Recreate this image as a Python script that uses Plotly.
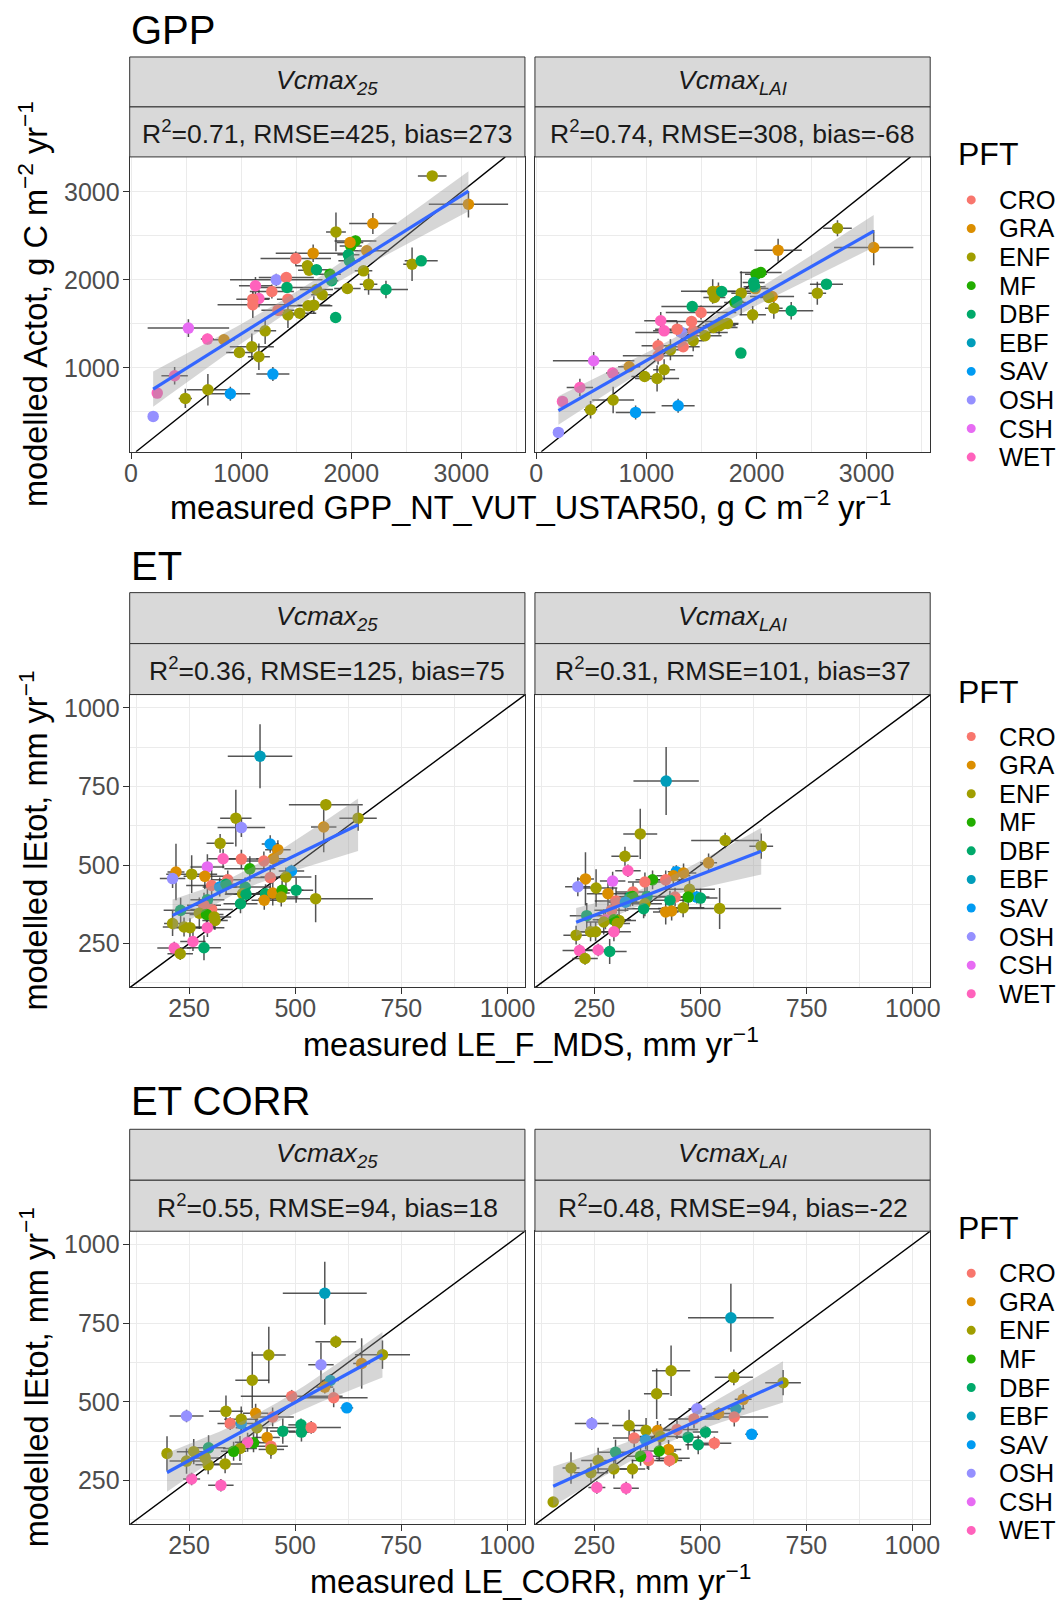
import numpy as np
import plotly.graph_objects as go

# ---------------- data ----------------
PFT_LEVELS = ["CRO", "GRA", "ENF", "MF", "DBF", "EBF", "SAV", "OSH", "CSH", "WET"]
PFT_COLORS = ["#F8766D", "#DB8E00", "#A09E00", "#22AD00", "#00A96A",
              "#009DBA", "#009BF2", "#9590FF", "#E76BF3", "#FF62BC"]

# GPP: measured (x) shared by both Vcmax variants
gpp_pft = ["ENF", "GRA", "GRA", "ENF", "MF", "MF", "GRA", "GRA", "GRA", "CRO",
           "DBF", "DBF", "ENF", "ENF", "DBF", "ENF", "DBF", "ENF", "MF", "DBF",
           "OSH", "CRO", "WET", "DBF", "CRO", "WET", "CRO", "CRO", "CRO", "CRO",
           "ENF", "ENF", "DBF", "ENF", "ENF", "ENF", "ENF", "ENF", "ENF", "DBF",
           "ENF", "CSH", "WET", "GRA", "ENF", "ENF", "ENF", "SAV", "WET", "ENF",
           "WET", "SAV", "ENF", "OSH"]
gpp_meas = [2735, 3064, 2196, 1861, 2038, 1995, 1989, 1654, 2141, 1496,
            1974, 1983, 1602, 1617, 1684, 2552, 2635, 2111, 1806, 1822,
            1319, 1410, 1130, 1416, 1279, 1161, 1106, 1106, 1425, 1334,
            1965, 2157, 2315, 1684, 1736, 1608, 1660, 1532, 1425, 1858,
            1218, 521, 694, 844, 1097, 984, 1161, 1288, 396, 698,
            238, 902, 493, 201]
gpp_meas_sd = [130, 360, 215, 90, 190, 100, 120, 340, 200, 320,
               100, 100, 110, 100, 120, 80, 150, 80, 100, 60,
               420, 250, 150, 280, 200, 100, 150, 320, 100, 150,
               120, 80, 200, 150, 100, 220, 150, 150, 100, 40,
               100, 370, 60, 100, 200, 120, 100, 150, 120, 190,
               40, 180, 60, 40]
gpp_v25 = [3182, 2860, 2640, 2545, 2443, 2386, 2424, 2303, 2330, 2242,
           2284, 2216, 2159, 2110, 2114, 2178, 2216, 2102, 2064, 1989,
           2000, 2026, 1932, 1913, 1867, 1788, 1780, 1716, 1780, 1655,
           1901, 1951, 1890, 1890, 1830, 1705, 1712, 1621, 1602, 1572,
           1420, 1451, 1326, 1318, 1239, 1174, 1125, 928, 909, 750,
           712, 704, 651, 447]
gpp_v25_sd = [40, 150, 120, 220, 60, 60, 60, 100, 60, 80,
              60, 60, 60, 50, 50, 190, 40, 50, 60, 50,
              70, 60, 100, 60, 80, 100, 80, 150, 60, 60,
              60, 120, 100, 60, 60, 60, 100, 60, 150, 30,
              150, 100, 60, 60, 150, 60, 150, 80, 100, 180,
              40, 80, 110, 30]
gpp_vlai = [2587, 2367, 2337, 1848, 2083, 2064, 1900, 1870, 1811, 1629,
            1970, 1920, 1867, 1799, 1867, 1848, 1951, 1799, 1742, 1754,
            1401, 1526, 1534, 1697, 1439, 1420, 1250, 1136, 1420, 1239,
            1602, 1678, 1648, 1496, 1504, 1458, 1477, 1364, 1307, 1167,
            1204, 1079, 939, 1011, 879, 901, 977, 568, 776, 633,
            617, 492, 523, 265]
gpp_vlai_sd = [90, 200, 130, 250, 60, 60, 60, 100, 60, 80,
               60, 60, 140, 60, 50, 130, 40, 50, 60, 60,
               80, 60, 100, 60, 80, 60, 80, 100, 60, 60,
               100, 120, 100, 60, 60, 60, 100, 60, 120, 30,
               120, 100, 60, 60, 150, 60, 120, 80, 100, 150,
               40, 80, 100, 30]

# ET (LE_F_MDS), Vcmax25
et25_pft = ["EBF", "ENF", "ENF", "GRA", "ENF", "OSH", "ENF", "SAV", "GRA", "GRA",
            "CRO", "CRO", "WET", "CSH", "MF", "SAV", "GRA", "OSH", "ENF", "GRA",
            "CRO", "CRO", "SAV", "DBF", "CRO", "ENF", "DBF", "ENF", "DBF", "DBF",
            "GRA", "MF", "DBF", "ENF", "GRA", "ENF", "DBF", "DBF", "DBF", "CRO",
            "CRO", "ENF", "MF", "ENF", "ENF", "ENF", "ENF", "ENF", "WET", "WET",
            "DBF", "WET", "ENF"]
et25_x = [417, 572, 648, 567, 360, 373, 323, 441, 459, 448,
          426, 373, 330, 293, 393, 491, 219, 211, 256, 287,
          341, 303, 322, 337, 441, 478, 382, 376, 384, 430,
          447, 469, 502, 467, 427, 548, 371, 293, 230, 285,
          303, 274, 291, 309, 311, 211, 238, 252, 293, 259,
          285, 215, 229]
et25_xsd = [76, 87, 44, 30, 37, 56, 32, 20, 30, 40,
            50, 40, 35, 40, 60, 30, 20, 30, 60, 50,
            40, 60, 40, 30, 50, 60, 60, 40, 50, 40,
            40, 50, 40, 40, 30, 135, 40, 40, 40, 40,
            50, 40, 40, 40, 30, 20, 50, 40, 40, 30,
            40, 40, 30]
et25_y = [846, 692, 649, 621, 649, 619, 569, 567, 549, 520,
          513, 519, 520, 494, 488, 481, 478, 457, 471, 464,
          453, 435, 430, 439, 460, 462, 430, 409, 407, 409,
          411, 420, 420, 398, 388, 393, 377, 390, 356, 372,
          359, 347, 343, 335, 324, 314, 303, 301, 301, 257,
          237, 236, 218]
et25_ysd = [102, 18, 40, 80, 90, 30, 30, 28, 30, 30,
            30, 30, 30, 40, 40, 20, 90, 30, 60, 40,
            30, 50, 30, 30, 40, 30, 30, 40, 30, 30,
            40, 30, 40, 30, 30, 75, 30, 40, 40, 40,
            40, 50, 40, 40, 30, 40, 30, 30, 30, 30,
            40, 20, 20]

# ET (LE_F_MDS), VcmaxLAI
etlai_pft = ["EBF", "ENF", "ENF", "ENF", "ENF", "GRA", "WET", "SAV", "GRA", "GRA",
             "CRO", "MF", "CRO", "GRA", "CSH", "OSH", "ENF", "GRA", "ENF", "CRO",
             "DBF", "MF", "SAV", "DBF", "MF", "CRO", "DBF", "CRO", "SAV", "DBF",
             "ENF", "DBF", "ENF", "ENF", "GRA", "GRA", "DBF", "CRO", "ENF", "WET",
             "MF", "ENF", "ENF", "ENF", "ENF", "WET", "ENF", "WET", "WET", "DBF",
             "ENF"]
etlai_x = [419, 358, 558, 643, 322, 519, 329, 443, 460, 436,
           418, 387, 369, 229, 293, 211, 254, 282, 474, 341,
           334, 340, 491, 500, 471, 440, 428, 301, 323, 374,
           369, 366, 459, 545, 418, 432, 232, 290, 308, 276,
           296, 304, 272, 241, 253, 296, 207, 259, 215, 286,
           228]
etlai_xsd = [77, 40, 80, 28, 32, 20, 30, 20, 30, 40,
             40, 40, 40, 20, 30, 30, 50, 50, 60, 40,
             40, 40, 30, 40, 40, 40, 40, 50, 40, 50,
             40, 40, 50, 145, 30, 30, 40, 40, 40, 30,
             40, 30, 40, 40, 40, 40, 30, 30, 40, 40,
             30]
etlai_y = [767, 599, 578, 560, 528, 507, 482, 479, 475, 466,
           453, 453, 446, 456, 449, 431, 427, 409, 423, 414,
           398, 400, 398, 395, 398, 398, 388, 386, 382, 400,
           377, 361, 364, 362, 351, 354, 339, 356, 324, 326,
           326, 314, 319, 288, 288, 288, 277, 230, 228, 225,
           203]
etlai_ysd = [108, 80, 25, 40, 30, 30, 20, 20, 30, 30,
             30, 30, 30, 85, 30, 30, 60, 40, 30, 30,
             30, 30, 20, 30, 30, 30, 30, 40, 30, 30,
             40, 30, 30, 65, 40, 30, 40, 40, 40, 30,
             30, 30, 40, 30, 30, 30, 30, 20, 20, 40,
             20]

# ET CORR (LE_CORR), Vcmax25
etc25_pft = ["EBF", "ENF", "ENF", "GRA", "OSH", "ENF", "ENF", "EBF", "GRA", "CRO",
             "CRO", "SAV", "OSH", "ENF", "GRA", "CRO", "SAV", "ENF", "CRO", "ENF",
             "DBF", "DBF", "DBF", "CRO", "GRA", "MF", "WET", "CRO", "ENF", "ENF",
             "MF", "DBF", "ENF", "ENF", "ENF", "ENF", "ENF", "ENF", "WET", "WET"]
etc25_x = [570, 596, 706, 657, 561, 438, 399, 583, 570, 492,
           591, 622, 244, 337, 407, 347, 373, 373, 447, 410,
           471, 514, 515, 538, 434, 402, 388, 443, 444, 370,
           355, 296, 261, 198, 244, 288, 295, 335, 256, 325]
etc25_xsd = [99, 48, 65, 20, 30, 40, 40, 20, 20, 120,
             80, 15, 40, 40, 30, 30, 30, 40, 50, 50,
             30, 30, 30, 70, 30, 40, 30, 40, 30, 40,
             30, 40, 40, 10, 40, 40, 30, 40, 20, 30]
etc25_y = [845, 691, 650, 622, 618, 649, 569, 568, 547, 518,
           513, 481, 455, 470, 464, 431, 431, 445, 452, 418,
           407, 427, 404, 419, 387, 370, 372, 359, 349, 352,
           343, 354, 342, 336, 312, 322, 300, 303, 255, 235]
etc25_ysd = [100, 20, 45, 80, 70, 90, 90, 20, 20, 20,
             30, 10, 20, 50, 30, 20, 30, 40, 30, 40,
             40, 20, 30, 20, 30, 30, 30, 40, 20, 40,
             30, 40, 40, 55, 40, 40, 30, 30, 20, 20]

# ET CORR (LE_CORR), VcmaxLAI
etclai_pft = ["EBF", "ENF", "ENF", "ENF", "ENF", "GRA", "EBF", "OSH", "GRA", "CRO",
              "CRO", "SAV", "OSH", "ENF", "ENF", "GRA", "CRO", "DBF", "DBF", "DBF",
              "CRO", "CRO", "SAV", "ENF", "GRA", "MF", "ENF", "CRO", "CRO", "WET",
              "MF", "DBF", "ENF", "ENF", "ENF", "ENF", "ENF", "WET", "WET", "ENF"]
etclai_x = [572, 579, 695, 431, 397, 601, 584, 492, 543, 580,
            485, 621, 244, 332, 372, 399, 445, 512, 471, 495,
            533, 344, 371, 406, 425, 403, 435, 427, 378, 375,
            359, 300, 259, 195, 242, 296, 340, 256, 325, 153]
etclai_xsd = [101, 45, 42, 45, 30, 20, 20, 20, 30, 80,
              60, 15, 40, 40, 40, 30, 50, 30, 30, 30,
              40, 50, 30, 50, 30, 40, 40, 30, 40, 30,
              30, 40, 40, 20, 40, 40, 30, 20, 30, 10]
etclai_y = [767, 578, 561, 599, 526, 508, 478, 478, 463, 452,
            446, 397, 431, 425, 409, 409, 412, 404, 388, 364,
            369, 385, 379, 390, 349, 344, 321, 314, 314, 327,
            327, 340, 314, 290, 275, 287, 287, 228, 226, 182]
etclai_ysd = [108, 25, 40, 80, 80, 30, 20, 20, 20, 30,
              30, 10, 20, 50, 40, 30, 30, 20, 40, 30,
              20, 30, 30, 40, 30, 30, 20, 20, 30, 40,
              30, 40, 40, 50, 30, 30, 30, 20, 20, 10]

ROW_TITLES = ["GPP", "ET", "ET CORR"]
STRIP_TOP = ["<i>Vcmax</i><sub><i>25</i></sub>", "<i>Vcmax</i><sub><i>LAI</i></sub>"]
STATS = [["R<sup>2</sup>=0.71, RMSE=425, bias=273", "R<sup>2</sup>=0.74, RMSE=308, bias=-68"],
         ["R<sup>2</sup>=0.36, RMSE=125, bias=75", "R<sup>2</sup>=0.31, RMSE=101, bias=37"],
         ["R<sup>2</sup>=0.55, RMSE=94, bias=18", "R<sup>2</sup>=0.48, RMSE=94, bias=-22"]]
X_TITLES = ["measured GPP_NT_VUT_USTAR50, g C m<sup>\u22122</sup> yr<sup>\u22121</sup>",
            "measured LE_F_MDS, mm yr<sup>\u22121</sup>",
            "measured LE_CORR, mm yr<sup>\u22121</sup>"]
Y_TITLES = ["modelled Actot, g C m<sup>\u22122</sup> yr<sup>\u22121</sup>",
            "modelled lEtot, mm yr<sup>\u22121</sup>",
            "modelled lEtot, mm yr<sup>\u22121</sup>"]

PANELS = [
    (0, 0, gpp_pft, gpp_meas, gpp_meas_sd, gpp_v25, gpp_v25_sd),
    (0, 1, gpp_pft, gpp_meas, gpp_meas_sd, gpp_vlai, gpp_vlai_sd),
    (1, 0, et25_pft, et25_x, et25_xsd, et25_y, et25_ysd),
    (1, 1, etlai_pft, etlai_x, etlai_xsd, etlai_y, etlai_ysd),
    (2, 0, etc25_pft, etc25_x, etc25_xsd, etc25_y, etc25_ysd),
    (2, 1, etclai_pft, etclai_x, etclai_xsd, etclai_y, etclai_ysd),
]

# ---------------- layout geometry (window pixels) ----------------
OFF = 8                      # default page body margin
W, H = 1068, 1593
FONT = "Liberation Sans, Arial, sans-serif"
# measured horizontal mapping of the rendered page (target -> requested)
HX_A, HX_B = 5.5, 0.9844


def px(v):
    return ((v - HX_A) / HX_B - OFF) / W


def py(v):
    return 1 - (v - OFF) / H


COL_PX = [(129, 524), (534, 929)]
ROW_GEOM = [
    dict(panel=(156, 451), strips=(56, 106, 156), title=29, xtitle=504, leg=(153, 199)),
    dict(panel=(694, 987), strips=(592, 643, 694), title=565, xtitle=1042, leg=(691, 736)),
    dict(panel=(1231, 1524), strips=(1129, 1180, 1231), title=1101, xtitle=1579, leg=(1228, 1273)),
]
ROW_AXES = [
    dict(xr=[-12, 3577], yr=[45, 3398], dtick=1000, minor=500),
    dict(xr=[110, 1041], yr=[111, 1042], dtick=250, minor=125),
    dict(xr=[110, 1042], yr=[112, 1042], dtick=250, minor=125),
]


def t975(df):
    return 1.96 + 2.5 / df


def smooth(x, y, n=80):
    x = np.asarray(x, float)
    y = np.asarray(y, float)
    nn = len(x)
    b, a = np.polyfit(x, y, 1)
    xs = np.linspace(x.min(), x.max(), n)
    yh = a + b * xs
    res = y - (a + b * x)
    s = np.sqrt(np.sum(res ** 2) / (nn - 2))
    sxx = np.sum((x - x.mean()) ** 2)
    se = s * np.sqrt(1.0 / nn + (xs - x.mean()) ** 2 / sxx)
    t = t975(nn - 2)
    return xs, yh, yh - t * se, yh + t * se


fig = go.Figure()
shapes = []
annotations = []
layout_axes = {}

for idx, (r, c, pft, xv, xsd, yv, ysd) in enumerate(PANELS):
    n = idx + 1
    xa = "x" if n == 1 else f"x{n}"
    ya = "y" if n == 1 else f"y{n}"
    g = ROW_GEOM[r]
    ax = ROW_AXES[r]
    cols = [PFT_COLORS[PFT_LEVELS.index(p)] for p in pft]

    lo = max(ax["xr"][0], ax["yr"][0])
    hi = min(ax["xr"][1], ax["yr"][1])
    fig.add_trace(go.Scatter(x=[lo, hi], y=[lo, hi], mode="lines",
                             line=dict(color="black", width=1.4),
                             xaxis=xa, yaxis=ya, showlegend=False, hoverinfo="skip"))
    fig.add_trace(go.Scatter(
        x=xv, y=yv, mode="markers", xaxis=xa, yaxis=ya, showlegend=False,
        marker=dict(color=cols, size=11.5, line=dict(width=0)),
        error_x=dict(type="data", array=xsd, visible=True, color="rgba(55,55,55,0.85)",
                     thickness=1.5, width=0),
        error_y=dict(type="data", array=ysd, visible=True, color="rgba(55,55,55,0.85)",
                     thickness=1.5, width=0),
        text=pft, hovertemplate="%{text}: %{x}, %{y}<extra></extra>"))
    xs, yh, ylo, yhi = smooth(xv, yv)
    fig.add_trace(go.Scatter(x=np.concatenate([xs, xs[::-1]]),
                             y=np.concatenate([yhi, ylo[::-1]]),
                             fill="toself", fillcolor="rgba(153,153,153,0.4)",
                             line=dict(width=0), mode="lines",
                             xaxis=xa, yaxis=ya, showlegend=False, hoverinfo="skip"))
    fig.add_trace(go.Scatter(x=xs, y=yh, mode="lines", line=dict(color="#3366FF", width=3.2),
                             xaxis=xa, yaxis=ya, showlegend=False, hoverinfo="skip"))

    x0, x1 = COL_PX[c]
    p0, p1 = g["panel"]
    common = dict(showgrid=True, gridcolor="#EBEBEB", gridwidth=1.1, zeroline=False,
                  showline=True, mirror=True, linecolor="#333333", linewidth=1,
                  ticks="outside", ticklen=6, tickcolor="#333333", tickwidth=1,
                  tickfont=dict(family=FONT, size=25, color="#4D4D4D"),
                  tick0=0, dtick=ax["dtick"],
                  minor=dict(dtick=ax["minor"], tick0=0, showgrid=True,
                             gridcolor="#EBEBEB", gridwidth=0.6))
    xkey = "xaxis" if n == 1 else f"xaxis{n}"
    ykey = "yaxis" if n == 1 else f"yaxis{n}"
    layout_axes[xkey] = dict(common, domain=[px(x0), px(x1)], range=ax["xr"], anchor=ya,
                             ticklabelstandoff=-7)
    ydict = dict(common, domain=[py(p1), py(p0)], range=ax["yr"], anchor=xa,
                 ticklabelstandoff=-2)
    if c == 1:
        ydict.update(showticklabels=False, ticks="")
    layout_axes[ykey] = ydict

    # facet strips
    s0, s1, s2 = g["strips"]
    for (a, b, txt) in [(s0, s1, STRIP_TOP[c]), (s1, s2, STATS[r][c])]:
        shapes.append(dict(type="rect", xref="paper", yref="paper",
                           x0=px(x0), x1=px(x1), y0=py(b), y1=py(a),
                           fillcolor="#D9D9D9", line=dict(color="#333333", width=1)))
        annotations.append(dict(xref="paper", yref="paper", x=px((x0 + x1) / 2), y=py((a + b) / 2),
                                text=txt, showarrow=False, xanchor="center", yanchor="middle",
                                font=dict(family=FONT, size=26.5, color="#1A1A1A")))

for r, g in enumerate(ROW_GEOM):
    annotations.append(dict(xref="paper", yref="paper", x=px(128), y=py(g["title"]),
                            text=ROW_TITLES[r], showarrow=False, xanchor="left", yanchor="middle",
                            font=dict(family=FONT, size=40, color="black")))
    annotations.append(dict(xref="paper", yref="paper", x=px(530), y=py(g["xtitle"]),
                            text=X_TITLES[r], showarrow=False, xanchor="center", yanchor="middle",
                            font=dict(family=FONT, size=32.5, color="black")))
    p0, p1 = g["panel"]
    annotations.append(dict(xref="paper", yref="paper", x=px(33), y=py((p0 + p1) / 2),
                            text=Y_TITLES[r], showarrow=False, textangle=-90,
                            xanchor="center", yanchor="middle",
                            font=dict(family=FONT, size=32.5, color="black")))
    # legend (ggplot-style guide, one per row)
    lt, l0 = g["leg"]
    annotations.append(dict(xref="paper", yref="paper", x=px(955), y=py(lt),
                            text="PFT", showarrow=False, xanchor="left", yanchor="middle",
                            font=dict(family=FONT, size=32, color="black")))
    for i, (lab, col) in enumerate(zip(PFT_LEVELS, PFT_COLORS)):
        yy = l0 + i * 28.6
        shapes.append(dict(type="circle", xref="paper", yref="paper",
                           x0=px(970 - 4.5), x1=px(970 + 4.5), y0=py(yy + 4.5), y1=py(yy - 4.5),
                           fillcolor=col, line=dict(width=0)))
        annotations.append(dict(xref="paper", yref="paper", x=px(996), y=py(yy),
                                text=lab, showarrow=False, xanchor="left", yanchor="middle",
                                font=dict(family=FONT, size=25.5, color="black")))

fig.update_layout(
    width=W, height=H, autosize=False,
    margin=dict(l=0, r=0, t=0, b=0),
    paper_bgcolor="white", plot_bgcolor="white",
    showlegend=False,
    shapes=shapes, annotations=annotations,
    font=dict(family=FONT),
    **layout_axes,
)

fig.write_html("out.html")
